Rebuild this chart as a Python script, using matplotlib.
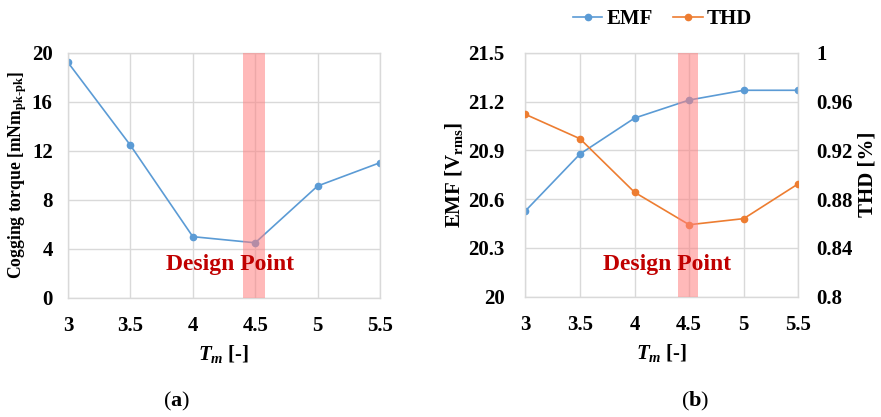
import numpy as np
import matplotlib
matplotlib.use("Agg")
from matplotlib import pyplot as plt

plt.rcParams["font.family"] = "Liberation Serif"
plt.rcParams["font.weight"] = "bold"
plt.rcParams["axes.labelweight"] = "bold"
plt.rcParams["mathtext.fontset"] = "custom"
plt.rcParams["mathtext.rm"] = "Liberation Serif:bold"
plt.rcParams["mathtext.it"] = "Liberation Serif:italic:bold"
plt.rcParams["mathtext.bf"] = "Liberation Serif:bold"

# magnet thickness sweep
tm = [3, 3.5, 4, 4.5, 5, 5.5]
cogging = [19.2, 12.45, 5.0, 4.5, 9.13, 11.03]
emf = [20.527, 20.877, 21.098, 21.209, 21.269, 21.269]
thd = [0.9495, 0.9295, 0.8856, 0.859, 0.864, 0.8926]

band = (4.4, 4.58)

blue = "#5B9BD5"
orange = "#ED7D31"
grid_c = "#D9D9D9"
fs = 15

fig = plt.figure(figsize=(8.81, 4.17), dpi=100)


def style_axes(ax):
    for s in ax.spines.values():
        s.set_color(grid_c)
        s.set_linewidth(1.0)
    ax.grid(True, color=grid_c, linewidth=1.0)
    ax.set_axisbelow(True)
    ax.tick_params(length=0, labelsize=fs)
    ax.set_xlim(3, 5.5)
    ax.set_xticks(tm)
    ax.set_xticklabels(["3", "3.5", "4", "4.5", "5", "5.5"])
    ax.tick_params(axis="x", pad=13)
    ax.set_xlabel(r"$T_m$ [-]", fontsize=fs, labelpad=5)


# (a) cogging torque
ax1 = fig.add_axes([0.0772, 0.2854, 0.3541, 0.5883])
style_axes(ax1)
ax1.plot(tm, cogging, color=blue, lw=1.2, marker="o", ms=4.5)
ax1.set_ylim(0, 20)
ax1.set_yticks(np.arange(0, 21, 4))
ax1.tick_params(axis="y", pad=11)
ax1.set_ylabel(r"Cogging torque [mNm$_{\mathrm{pk\text{-}pk}}$]", fontsize=12.7, labelpad=2)
ax1.axvspan(*band, color="#FF8080", alpha=0.55, lw=0, zorder=5)
ax1.text(4.3, 2.7, "Design Point", color="#C00000", fontsize=17,
         ha="center", va="center", zorder=6)

# (b) back EMF and THD
ax2 = fig.add_axes([0.5963, 0.2885, 0.3099, 0.5851])
style_axes(ax2)
l1, = ax2.plot(tm, emf, color=blue, lw=1.2, marker="o", ms=4.5, label="EMF")
ax2.set_ylim(20, 21.5)
ax2.set_yticks([20, 20.3, 20.6, 20.9, 21.2, 21.5])
ax2.set_yticklabels(["20", "20.3", "20.6", "20.9", "21.2", "21.5"])
ax2.tick_params(axis="y", pad=15)
ax2.set_ylabel(r"EMF [V$_{\mathrm{rms}}$]", fontsize=fs, labelpad=2)

ax3 = ax2.twinx()
for s in ax3.spines.values():
    s.set_visible(False)
l2, = ax3.plot(tm, thd, color=orange, lw=1.2, marker="o", ms=4.5, label="THD")
ax3.set_ylim(0.8, 1.0)
ax3.set_yticks([0.8, 0.84, 0.88, 0.92, 0.96, 1.0])
ax3.set_yticklabels(["0.8", "0.84", "0.88", "0.92", "0.96", "1"])
ax3.tick_params(length=0, labelsize=fs, pad=13)
ax3.set_ylabel("THD [%]", fontsize=fs, rotation=90, labelpad=3)
ax3.axvspan(*band, color="#FF8080", alpha=0.55, lw=0, zorder=5)
ax3.text(4.3, 0.8 + 0.195 / 1.5 * 0.2, "Design Point", color="#C00000",
         fontsize=17, ha="center", va="center", zorder=6)

fig.legend(handles=[l1, l2], loc="center", bbox_to_anchor=(0.752, 0.954),
           ncol=2, frameon=False, fontsize=fs, handlelength=1.4,
           handletextpad=0.2, columnspacing=1.0)

fig.text(0.2, 0.038, r"($\mathbf{a}$)", fontsize=16, fontweight="normal",
         ha="center", va="center")
fig.text(0.789, 0.038, r"($\mathbf{b}$)", fontsize=16, fontweight="normal",
         ha="center", va="center")

fig.savefig("out.png", dpi=100)
